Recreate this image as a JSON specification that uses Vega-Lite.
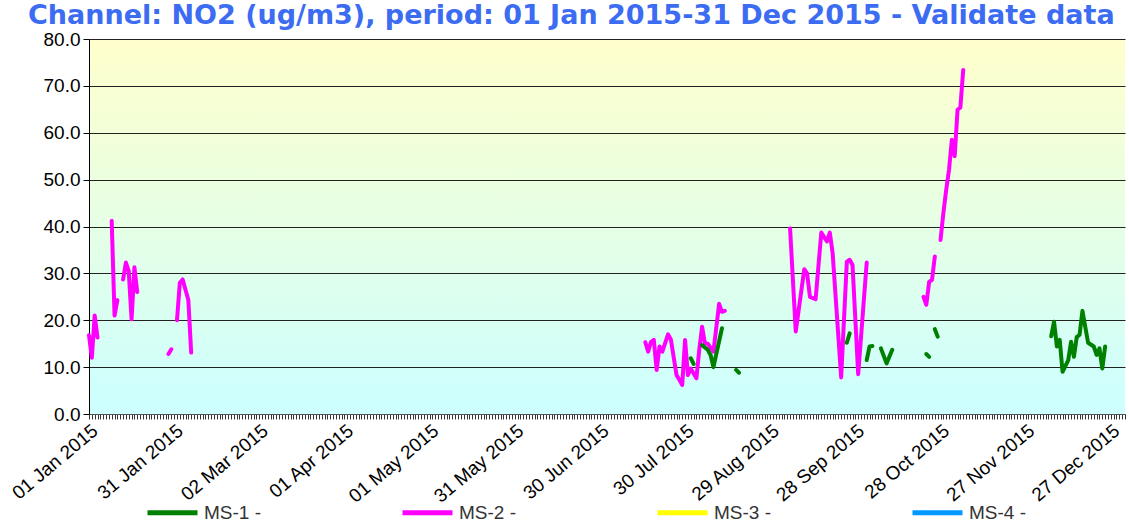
{
  "$schema": "https://vega.github.io/schema/vega-lite/v6.json",
  "width": 1036,
  "height": 375,
  "autosize": "none",
  "padding": {"left": 89, "top": 39, "right": 4, "bottom": 108},
  "background": "white",
  "title": {
    "text": "Channel: NO2 (ug/m3), period: 01 Jan 2015-31 Dec 2015 - Validate data",
    "anchor": "start",
    "frame": "group",
    "dx": -61,
    "offset": 0,
    "font": "DejaVu Sans",
    "fontSize": 27,
    "fontWeight": "bold",
    "color": "#3b6cf2"
  },
  "config": {
    "view": {
      "stroke": null,
      "fill": {
        "gradient": "linear",
        "x1": 0, "y1": 0, "x2": 0, "y2": 1,
        "stops": [
          {"offset": 0, "color": "#ffffcc"},
          {"offset": 1, "color": "#ccffff"}
        ]
      }
    }
  },
  "data": {
    "values": [
      {"date": "2015-01-01", "station": "MS-2", "value": 16.8},
      {"date": "2015-01-02", "station": "MS-2", "value": 12},
      {"date": "2015-01-03", "station": "MS-2", "value": 21},
      {"date": "2015-01-04", "station": "MS-2", "value": 16.3},
      {"date": "2015-01-05", "station": "MS-2", "value": null},
      {"date": "2015-01-09", "station": "MS-2", "value": 41.2},
      {"date": "2015-01-10", "station": "MS-2", "value": 21},
      {"date": "2015-01-11", "station": "MS-2", "value": 24.3},
      {"date": "2015-01-12", "station": "MS-2", "value": null},
      {"date": "2015-01-13", "station": "MS-2", "value": 28.7},
      {"date": "2015-01-14", "station": "MS-2", "value": 32.3},
      {"date": "2015-01-15", "station": "MS-2", "value": 30.5},
      {"date": "2015-01-16", "station": "MS-2", "value": 20.2},
      {"date": "2015-01-17", "station": "MS-2", "value": 31.3},
      {"date": "2015-01-18", "station": "MS-2", "value": 26},
      {"date": "2015-01-19", "station": "MS-2", "value": null},
      {"date": "2015-01-29", "station": "MS-2", "value": 12.8},
      {"date": "2015-01-30", "station": "MS-2", "value": 13.8},
      {"date": "2015-01-31", "station": "MS-2", "value": null},
      {"date": "2015-02-01", "station": "MS-2", "value": 20},
      {"date": "2015-02-02", "station": "MS-2", "value": 28},
      {"date": "2015-02-03", "station": "MS-2", "value": 28.7},
      {"date": "2015-02-04", "station": "MS-2", "value": 26.5},
      {"date": "2015-02-05", "station": "MS-2", "value": 24.3},
      {"date": "2015-02-06", "station": "MS-2", "value": 13.1},
      {"date": "2015-02-07", "station": "MS-2", "value": null},
      {"date": "2015-07-16", "station": "MS-2", "value": 15.3},
      {"date": "2015-07-17", "station": "MS-2", "value": 13.3},
      {"date": "2015-07-18", "station": "MS-2", "value": 15.4},
      {"date": "2015-07-19", "station": "MS-2", "value": 15.8},
      {"date": "2015-07-20", "station": "MS-2", "value": 9.4},
      {"date": "2015-07-21", "station": "MS-2", "value": 14.4},
      {"date": "2015-07-22", "station": "MS-2", "value": 13.3},
      {"date": "2015-07-24", "station": "MS-2", "value": 17},
      {"date": "2015-07-25", "station": "MS-2", "value": 15.9},
      {"date": "2015-07-27", "station": "MS-2", "value": 8.3},
      {"date": "2015-07-28", "station": "MS-2", "value": 7.3},
      {"date": "2015-07-29", "station": "MS-2", "value": 6.2},
      {"date": "2015-07-30", "station": "MS-2", "value": 15.8},
      {"date": "2015-07-31", "station": "MS-2", "value": 8.3},
      {"date": "2015-08-01", "station": "MS-2", "value": 9.7},
      {"date": "2015-08-03", "station": "MS-2", "value": 7.6},
      {"date": "2015-08-04", "station": "MS-2", "value": 13.7},
      {"date": "2015-08-05", "station": "MS-2", "value": 18.6},
      {"date": "2015-08-06", "station": "MS-2", "value": 15.1},
      {"date": "2015-08-07", "station": "MS-2", "value": 15},
      {"date": "2015-08-09", "station": "MS-2", "value": 13.3},
      {"date": "2015-08-11", "station": "MS-2", "value": 23.5},
      {"date": "2015-08-12", "station": "MS-2", "value": 21.8},
      {"date": "2015-08-13", "station": "MS-2", "value": 22},
      {"date": "2015-08-14", "station": "MS-2", "value": null},
      {"date": "2015-09-05", "station": "MS-2", "value": 39.6},
      {"date": "2015-09-07", "station": "MS-2", "value": 17.6},
      {"date": "2015-09-10", "station": "MS-2", "value": 30.9},
      {"date": "2015-09-11", "station": "MS-2", "value": 30},
      {"date": "2015-09-12", "station": "MS-2", "value": 25},
      {"date": "2015-09-14", "station": "MS-2", "value": 24.5},
      {"date": "2015-09-16", "station": "MS-2", "value": 38.7},
      {"date": "2015-09-18", "station": "MS-2", "value": 36.8},
      {"date": "2015-09-19", "station": "MS-2", "value": 38.7},
      {"date": "2015-09-20", "station": "MS-2", "value": 34.3},
      {"date": "2015-09-23", "station": "MS-2", "value": 7.8},
      {"date": "2015-09-25", "station": "MS-2", "value": 32.5},
      {"date": "2015-09-26", "station": "MS-2", "value": 32.9},
      {"date": "2015-09-27", "station": "MS-2", "value": 31.8},
      {"date": "2015-09-29", "station": "MS-2", "value": 8.5},
      {"date": "2015-10-02", "station": "MS-2", "value": 32.3},
      {"date": "2015-10-03", "station": "MS-2", "value": null},
      {"date": "2015-10-22", "station": "MS-2", "value": 25},
      {"date": "2015-10-23", "station": "MS-2", "value": 23.3},
      {"date": "2015-10-24", "station": "MS-2", "value": 28.2},
      {"date": "2015-10-25", "station": "MS-2", "value": 28.6},
      {"date": "2015-10-26", "station": "MS-2", "value": 33.6},
      {"date": "2015-10-27", "station": "MS-2", "value": null},
      {"date": "2015-10-28", "station": "MS-2", "value": 37.1},
      {"date": "2015-10-29", "station": "MS-2", "value": 42.8},
      {"date": "2015-10-30", "station": "MS-2", "value": 47.8},
      {"date": "2015-10-31", "station": "MS-2", "value": 52.1},
      {"date": "2015-11-01", "station": "MS-2", "value": 58.5},
      {"date": "2015-11-02", "station": "MS-2", "value": 55},
      {"date": "2015-11-03", "station": "MS-2", "value": 64.9},
      {"date": "2015-11-04", "station": "MS-2", "value": 65.4},
      {"date": "2015-11-05", "station": "MS-2", "value": 73.4},
      {"date": "2015-08-01", "station": "MS-1", "value": 11.9},
      {"date": "2015-08-02", "station": "MS-1", "value": 10.7},
      {"date": "2015-08-03", "station": "MS-1", "value": null},
      {"date": "2015-08-05", "station": "MS-1", "value": 14.7},
      {"date": "2015-08-07", "station": "MS-1", "value": 13.7},
      {"date": "2015-08-08", "station": "MS-1", "value": 12.6},
      {"date": "2015-08-09", "station": "MS-1", "value": 10},
      {"date": "2015-08-12", "station": "MS-1", "value": 18.3},
      {"date": "2015-08-13", "station": "MS-1", "value": null},
      {"date": "2015-08-17", "station": "MS-1", "value": 9.4},
      {"date": "2015-08-18", "station": "MS-1", "value": 8.8},
      {"date": "2015-08-19", "station": "MS-1", "value": null},
      {"date": "2015-09-25", "station": "MS-1", "value": 15.2},
      {"date": "2015-09-26", "station": "MS-1", "value": 17.2},
      {"date": "2015-09-27", "station": "MS-1", "value": null},
      {"date": "2015-10-02", "station": "MS-1", "value": 11.5},
      {"date": "2015-10-03", "station": "MS-1", "value": 14.4},
      {"date": "2015-10-04", "station": "MS-1", "value": 14.5},
      {"date": "2015-10-05", "station": "MS-1", "value": null},
      {"date": "2015-10-07", "station": "MS-1", "value": 14},
      {"date": "2015-10-09", "station": "MS-1", "value": 10.8},
      {"date": "2015-10-11", "station": "MS-1", "value": 13.7},
      {"date": "2015-10-12", "station": "MS-1", "value": null},
      {"date": "2015-10-23", "station": "MS-1", "value": 12.8},
      {"date": "2015-10-24", "station": "MS-1", "value": 12.2},
      {"date": "2015-10-25", "station": "MS-1", "value": null},
      {"date": "2015-10-26", "station": "MS-1", "value": 18.1},
      {"date": "2015-10-27", "station": "MS-1", "value": 16.5},
      {"date": "2015-10-28", "station": "MS-1", "value": null},
      {"date": "2015-12-06", "station": "MS-1", "value": 16.6},
      {"date": "2015-12-07", "station": "MS-1", "value": 19.7},
      {"date": "2015-12-08", "station": "MS-1", "value": 14.4},
      {"date": "2015-12-09", "station": "MS-1", "value": 15.8},
      {"date": "2015-12-10", "station": "MS-1", "value": 9},
      {"date": "2015-12-12", "station": "MS-1", "value": 11.5},
      {"date": "2015-12-13", "station": "MS-1", "value": 15.4},
      {"date": "2015-12-14", "station": "MS-1", "value": 12.2},
      {"date": "2015-12-15", "station": "MS-1", "value": 16.4},
      {"date": "2015-12-16", "station": "MS-1", "value": 16.9},
      {"date": "2015-12-17", "station": "MS-1", "value": 22},
      {"date": "2015-12-19", "station": "MS-1", "value": 15.2},
      {"date": "2015-12-21", "station": "MS-1", "value": 14.4},
      {"date": "2015-12-22", "station": "MS-1", "value": 12.6},
      {"date": "2015-12-23", "station": "MS-1", "value": 14},
      {"date": "2015-12-24", "station": "MS-1", "value": 9.7},
      {"date": "2015-12-25", "station": "MS-1", "value": 14.4}
    ]
  },
  "mark": {
    "type": "line",
    "strokeWidth": 4,
    "strokeCap": "round",
    "strokeJoin": "round",
    "invalid": "break-paths-show-domains"
  },
  "encoding": {
    "x": {
      "field": "date",
      "type": "temporal",
      "scale": {
        "type": "utc",
        "domain": [
          {"year": 2015, "month": 1, "date": 1, "utc": true},
          {"year": 2016, "month": 1, "date": 1, "utc": true}
        ]
      },
      "axis": {
        "title": null,
        "grid": false,
        "tickCount": {"interval": "day", "step": 1},
        "tickSize": 5,
        "tickColor": "#333333",
        "domainColor": "#555555",
        "labelExpr": "((datum.value - utc(2015,0,1)) / 86400000) % 30 === 0 ? utcFormat(datum.value, '%d %b %Y') : ''",
        "labelAngle": -40,
        "labelFont": "Liberation Sans",
        "labelFontSize": 19,
        "labelColor": "#000000",
        "labelOverlap": false,
        "labelBound": false,
        "labelFlush": false,
        "labelPadding": 2
      }
    },
    "y": {
      "field": "value",
      "type": "quantitative",
      "scale": {"domain": [0, 80], "nice": false},
      "axis": {
        "title": null,
        "values": [0, 10, 20, 30, 40, 50, 60, 70, 80],
        "format": ".1f",
        "grid": true,
        "gridColor": "#222222",
        "gridOpacity": 1,
        "gridWidth": 1,
        "domainColor": "#000000",
        "tickColor": "#000000",
        "tickSize": 6,
        "labelFont": "Liberation Sans",
        "labelFontSize": 19,
        "labelColor": "#000000",
        "labelPadding": 3
      }
    },
    "color": {
      "field": "station",
      "type": "nominal",
      "scale": {
        "domain": ["MS-1", "MS-2", "MS-3", "MS-4"],
        "range": ["#008000", "#ff00ff", "#ffff00", "#0099ff"]
      },
      "legend": {
        "title": null,
        "orient": "none",
        "legendX": 56,
        "legendY": 446,
        "direction": "horizontal",
        "columns": 4,
        "symbolType": "stroke",
        "symbolSize": 2500,
        "symbolStrokeWidth": 5,
        "labelExpr": "datum.label + ' -'",
        "labelFont": "Liberation Sans",
        "labelFontSize": 19,
        "labelColor": "#333333",
        "labelOffset": 4,
        "columnPadding": 131,
        "padding": 0
      }
    }
  }
}
